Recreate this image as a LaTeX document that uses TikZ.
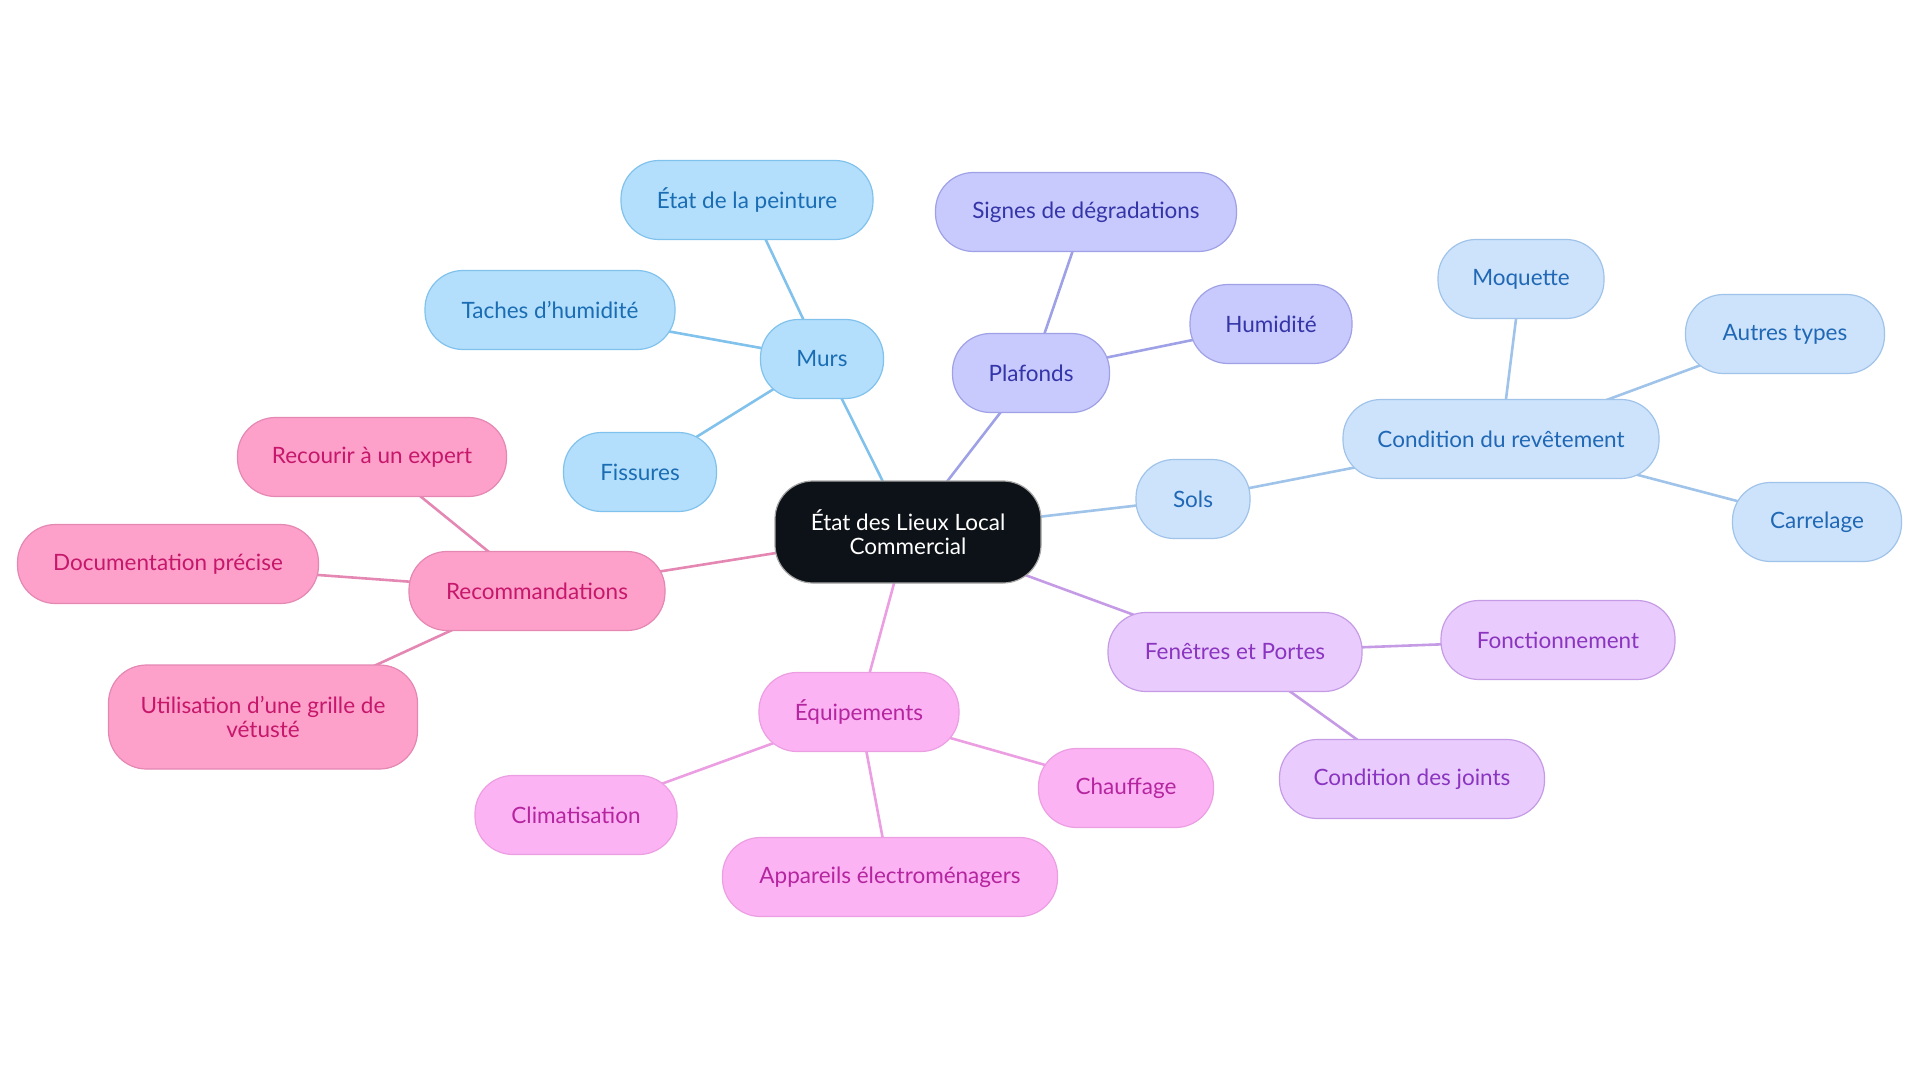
\documentclass[tikz,border=0pt]{standalone}
\usepackage{fontspec}
\setmainfont{Lato}
\usepackage{xcolor}
\usetikzlibrary{positioning,backgrounds}

\definecolor{murfill}{HTML}{B3DFFD}
\definecolor{murdraw}{HTML}{80C2EC}
\definecolor{murtext}{HTML}{1A6DB3}
\definecolor{plafill}{HTML}{C8C9FC}
\definecolor{pladraw}{HTML}{9FA1E6}
\definecolor{platext}{HTML}{3435A8}
\definecolor{solfill}{HTML}{CDE3FB}
\definecolor{soldraw}{HTML}{A0C3EA}
\definecolor{soltext}{HTML}{2068B5}
\definecolor{fenfill}{HTML}{E9CCFD}
\definecolor{fendraw}{HTML}{C69BE6}
\definecolor{fentext}{HTML}{8A34C0}
\definecolor{equfill}{HTML}{FCB3F4}
\definecolor{equdraw}{HTML}{EC9EE2}
\definecolor{equtext}{HTML}{B5259F}
\definecolor{recfill}{HTML}{FDA1CB}
\definecolor{recdraw}{HTML}{E487B3}
\definecolor{rectext}{HTML}{C6176B}
\definecolor{rootfill}{HTML}{0D1218}

\newcommand{\apos}{\char"27\relax}

\begin{document}
\begin{tikzpicture}[
  x=1pt, y=-1pt,
  every node/.style={font=\fontsize{22.5}{23.5}\selectfont},
  topic/.style={draw, line width=1.2pt, rounded corners=38pt, minimum height=79pt, align=center, inner sep=4pt},
  root/.style={topic, fill=rootfill, draw=gray!70, text=white, minimum height=102pt},
  murs/.style={topic, fill=murfill, draw=murdraw, text=murtext},
  plaf/.style={topic, fill=plafill, draw=pladraw, text=platext},
  sols/.style={topic, fill=solfill, draw=soldraw, text=soltext},
  fen/.style={topic, fill=fenfill, draw=fendraw, text=fentext},
  equ/.style={topic, fill=equfill, draw=equdraw, text=equtext},
  reco/.style={topic, fill=recfill, draw=recdraw, text=rectext},
  link/.style={line width=2.6pt}
]
\useasboundingbox (0,0) rectangle (1920,1083);

% centre
\node[root, minimum width=266pt] (etat) at (908,532) {État des Lieux Local\\Commercial};

% murs
\node[murs, minimum width=123pt] (murs) at (822,359) {Murs};
\node[murs, minimum width=252pt] (peinture) at (747,200) {État de la peinture};
\node[murs, minimum width=250pt] (taches) at (550,310) {Taches d\apos humidité};
\node[murs, minimum width=153pt] (fissures) at (640,472) {Fissures};

% plafonds
\node[plaf, minimum width=157pt] (plafonds) at (1031,373) {Plafonds};
\node[plaf, minimum width=301pt] (signes) at (1086,212) {Signes de dégradations};
\node[plaf, minimum width=162pt] (humid) at (1271,324) {Humidité};

% sols
\node[sols, minimum width=114pt] (sols) at (1193,499) {Sols};
\node[sols, minimum width=316pt] (revet) at (1501,439) {Condition du revêtement};
\node[sols, minimum width=166pt] (moquette) at (1521,279) {Moquette};
\node[sols, minimum width=199pt] (autres) at (1785,334) {Autres types};
\node[sols, minimum width=169pt] (carrelage) at (1817,522) {Carrelage};

% fenetres et portes
\node[fen, minimum width=254pt] (fenetres) at (1235,652) {Fenêtres et Portes};
\node[fen, minimum width=234pt] (fonct) at (1558,640) {Fonctionnement};
\node[fen, minimum width=265pt] (joints) at (1412,779) {Condition des joints};

% equipements
\node[equ, minimum width=200pt] (equip) at (859,712) {Équipements};
\node[equ, minimum width=175pt] (chauff) at (1126,788) {Chauffage};
\node[equ, minimum width=202pt] (clim) at (576,815) {Climatisation};
\node[equ, minimum width=335pt] (appar) at (890,877) {Appareils électroménagers};

% recommandations
\node[reco, minimum width=256pt] (reco) at (537,591) {Recommandations};
\node[reco, minimum width=269pt] (expert) at (372,457) {Recourir à un expert};
\node[reco, minimum width=301pt] (doc) at (168,564) {Documentation précise};
\node[reco, minimum width=309pt, minimum height=104pt] (grille) at (263,717) {Utilisation d\apos une grille de\\vétusté};

\begin{scope}[on background layer]
\draw[link, murdraw] (etat.center) -- (murs.center);
\draw[link, murdraw] (murs.center) -- (peinture.center);
\draw[link, murdraw] (murs.center) -- (taches.center);
\draw[link, murdraw] (murs.center) -- (fissures.center);

\draw[link, pladraw] (etat.center) -- (plafonds.center);
\draw[link, pladraw] (plafonds.center) -- (signes.center);
\draw[link, pladraw] (plafonds.center) -- (humid.center);

\draw[link, soldraw] (etat.center) -- (sols.center);
\draw[link, soldraw] (sols.center) -- (revet.center);
\draw[link, soldraw] (revet.center) -- (moquette.center);
\draw[link, soldraw] (revet.center) -- (autres.center);
\draw[link, soldraw] (revet.center) -- (carrelage.center);

\draw[link, fendraw] (etat.center) -- (fenetres.center);
\draw[link, fendraw] (fenetres.center) -- (fonct.center);
\draw[link, fendraw] (fenetres.center) -- (joints.center);

\draw[link, equdraw] (etat.center) -- (equip.center);
\draw[link, equdraw] (equip.center) -- (chauff.center);
\draw[link, equdraw] (equip.center) -- (clim.center);
\draw[link, equdraw] (equip.center) -- (appar.center);

\draw[link, recdraw] (etat.center) -- (reco.center);
\draw[link, recdraw] (reco.center) -- (expert.center);
\draw[link, recdraw] (reco.center) -- (doc.center);
\draw[link, recdraw] (reco.center) -- (grille.center);
\end{scope}
\end{tikzpicture}
\end{document}
